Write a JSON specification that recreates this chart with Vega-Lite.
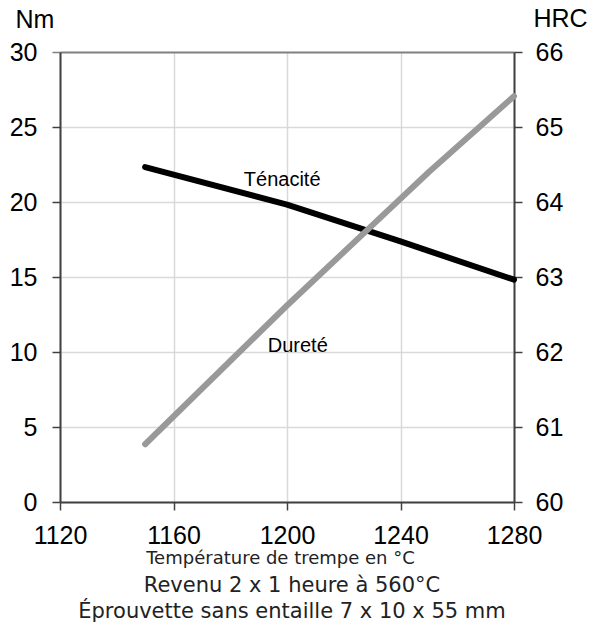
{
  "$schema": "https://vega.github.io/schema/vega-lite/v6.json",
  "width": 454,
  "height": 450,
  "autosize": "none",
  "padding": {"left": 60, "top": 52, "right": 78, "bottom": 122},
  "background": "white",
  "config": {
    "view": {"stroke": null},
    "axis": {"labelFont": "Liberation Sans", "titleFont": "Liberation Sans", "labelColor": "black", "titleColor": "black", "labelFontSize": 25, "titleFontSize": 25, "titleFontWeight": "normal"}
  },
  "title": {
    "text": ["Revenu 2 x 1 heure à 560°C", "Éprouvette sans entaille 7 x 10 x 55 mm"],
    "orient": "bottom",
    "anchor": "middle",
    "font": "DejaVu Sans",
    "fontSize": 21,
    "fontWeight": "normal",
    "color": "#222222",
    "lineHeight": 26,
    "offset": 8,
    "dx": 5
  },
  "datasets": {
    "ten": [
      {"T": 1150, "v": 22.33},
      {"T": 1200, "v": 19.82},
      {"T": 1240, "v": 17.37},
      {"T": 1280, "v": 14.82}
    ],
    "dur": [
      {"T": 1150, "v": 60.77},
      {"T": 1200, "v": 62.62},
      {"T": 1250, "v": 64.4},
      {"T": 1280, "v": 65.41}
    ],
    "labels": [
      {"T": 1198.3, "v": 21.04, "label": "Ténacité"},
      {"T": 1203.8, "v": 9.97, "label": "Dureté"}
    ]
  },
  "layer": [
    {
      "layer": [
        {
          "data": {"name": "ten"},
          "mark": {"type": "line", "color": "black", "strokeWidth": 6, "strokeCap": "round", "strokeJoin": "round"},
          "encoding": {
            "x": {
              "field": "T", "type": "quantitative",
              "scale": {"domain": [1120, 1280], "nice": false},
              "axis": {
                "values": [1120, 1160, 1200, 1240, 1280],
                "format": "d",
                "title": "Température de trempe en °C",
                "titleFont": "DejaVu Sans",
                "titleFontSize": 18,
                "titleColor": "#222222",
                "titleBaseline": "alphabetic",
                "titleY": 61,
                "titleX": 220,
                "titleAnchor": "middle",
                "titleAlign": "center",
                "labelPadding": 13.5,
                "tickSize": 8,
                "tickWidth": 1.5,
                "tickColor": "#404040",
                "domainColor": "#404040",
                "domainWidth": 2,
                "gridColor": "#d9d9d9",
                "gridWidth": 1.5,
                "labelFlush": false
              }
            },
            "y": {
              "field": "v", "type": "quantitative",
              "scale": {"domain": [0, 30], "nice": false},
              "axis": {
                "values": [0, 5, 10, 15, 20, 25, 30],
                "title": "Nm",
                "titleAngle": 0,
                "titleAlign": "left",
                "titleBaseline": "alphabetic",
                "titleX": -45,
                "titleY": -25,
                "labelPadding": 15,
                "tickSize": 8,
                "tickWidth": 1.5,
                "tickColor": {"condition": {"test": "datum.value === 30", "value": "#808080"}, "value": "#404040"},
                "domainColor": "#404040",
                "domainWidth": 2,
                "gridColor": {"condition": {"test": "datum.value === 30", "value": "#808080"}, "value": "#d9d9d9"},
                "gridWidth": {"condition": {"test": "datum.value === 30", "value": 2}, "value": 1.5}
              }
            }
          }
        },
        {
          "data": {"name": "labels"},
          "mark": {"type": "text", "font": "Liberation Sans", "fontSize": 20, "baseline": "alphabetic", "align": "center", "color": "black"},
          "encoding": {
            "x": {"field": "T", "type": "quantitative"},
            "y": {"field": "v", "type": "quantitative"},
            "text": {"field": "label"}
          }
        }
      ]
    },
    {
      "data": {"name": "dur"},
      "mark": {"type": "line", "color": "#999999", "strokeWidth": 6, "strokeCap": "round", "strokeJoin": "round"},
      "encoding": {
        "x": {"field": "T", "type": "quantitative"},
        "y": {
          "field": "v", "type": "quantitative",
          "scale": {"domain": [60, 66], "nice": false},
          "axis": {
            "orient": "right",
            "values": [60, 61, 62, 63, 64, 65, 66],
            "grid": false,
            "title": "HRC",
            "titleAngle": 0,
            "titleAlign": "left",
            "titleBaseline": "alphabetic",
            "titleX": 19,
            "titleY": -26,
            "labelPadding": 13,
            "tickSize": 8,
            "tickWidth": 1.5,
            "tickColor": "#404040",
            "domainColor": "#404040",
            "domainWidth": 2
          }
        }
      }
    }
  ],
  "resolve": {"scale": {"y": "independent"}}
}
